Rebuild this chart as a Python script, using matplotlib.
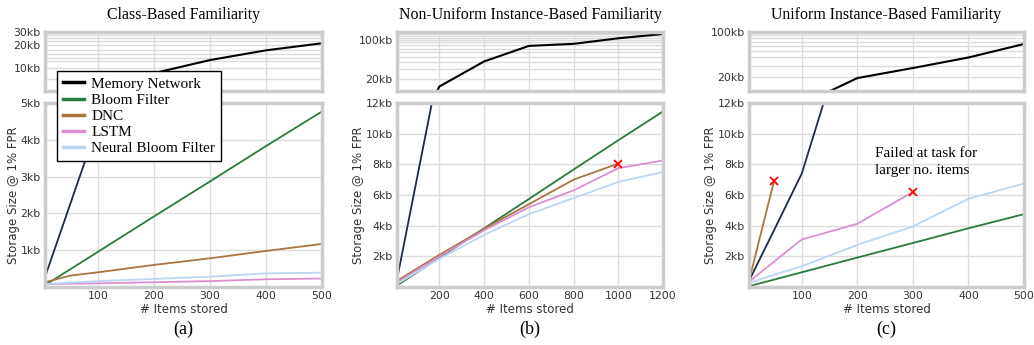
import matplotlib
matplotlib.use("Agg")
import matplotlib.pyplot as plt
from matplotlib.ticker import FixedLocator, FixedFormatter, NullFormatter
from matplotlib.lines import Line2D

# ---------------------------------------------------------------- data (kb)
# (a) Class-Based Familiarity
a_x = [5, 50, 100, 200, 300, 400, 500]
a_memnet = [0.27, 2.25, 4.45, 8.6, 12.8, 17.2, 21.3]
a_bloom = [0.05, 0.48, 0.96, 1.92, 2.87, 3.83, 4.77]
a_dnc = [0.13, 0.31, 0.40, 0.60, 0.78, 0.98, 1.17]
a_lstm = [0.08, 0.09, 0.10, 0.13, 0.16, 0.21, 0.23]
a_nbf = [0.08, 0.12, 0.16, 0.22, 0.28, 0.37, 0.39]

# (b) Non-Uniform Instance-Based Familiarity
b_x = [10, 200, 400, 600, 800, 1000, 1200]
b_memnet = [0.5, 14.5, 41, 78, 85, 107, 128]
b_bloom = [0.1, 1.91, 3.83, 5.74, 7.66, 9.57, 11.45]
b_dnc_x = [10, 200, 400, 600, 800, 1000]
b_dnc = [0.4, 2.1, 3.8, 5.4, 7.0, 8.05]
b_lstm = [0.3, 2.0, 3.7, 5.2, 6.3, 7.75, 8.25]
b_nbf = [0.2, 1.85, 3.4, 4.75, 5.8, 6.85, 7.5]

# (c) Uniform Instance-Based Familiarity
c_x = [5, 50, 100, 200, 300, 400, 500]
c_memnet = [0.4, 3.7, 7.4, 19.1, 27.4, 40, 65]
c_bloom = [0.05, 0.48, 0.96, 1.92, 2.87, 3.83, 4.75]
c_dnc_x = [5, 50]
c_dnc = [0.4, 6.9]
c_lstm_x = [5, 100, 200, 300]
c_lstm = [0.35, 3.1, 4.12, 6.2]
c_nbf = [0.25, 0.8, 1.35, 2.75, 3.95, 5.75, 6.75]

titles = ["Class-Based Familiarity",
          "Non-Uniform Instance-Based Familiarity",
          "Uniform Instance-Based Familiarity"]
panel_tags = ["(a)", "(b)", "(c)"]
legend_names = ["Memory Network", "Bloom Filter", "DNC", "LSTM",
                "Neural Bloom Filter"]

# ---------------------------------------------------------------- style
NAVY = "#1b2a4a"
GREEN = "#2b7a3d"
BROWN = "#a87540"
PINK = "#d98fd0"
LBLUE = "#bcd5f2"
GRID = "#dcdcdc"
SPINE = "#cccccc"
SERIF = "Liberation Serif"
TICK = 7.8

W, H = 1034, 345
fig = plt.figure(figsize=(W / 100, H / 100), dpi=100)


def fx(px):
    return px / W


def fy(px):
    return 1 - px / H


def style_axes(ax):
    ax.set_facecolor("white")
    for s in ax.spines.values():
        s.set_color(SPINE)
        s.set_linewidth(2.5)
    ax.grid(True, which="both", color=GRID, linewidth=1.0)
    ax.set_axisbelow(True)
    ax.tick_params(which="both", length=0, labelsize=TICK,
                   labelcolor="#333333", pad=3)


def make_panel(left, right, xlim, xticks, top_ylim, top_ticks, top_minor,
               bot_ylim, bot_ticks, title):
    top_ax = fig.add_axes([fx(left), fy(91), fx(right - left), (91 - 32) / H])
    bot_ax = fig.add_axes([fx(left), fy(287), fx(right - left), (287 - 103) / H])
    for ax in (top_ax, bot_ax):
        style_axes(ax)
        ax.set_xlim(*xlim)
        ax.xaxis.set_major_locator(FixedLocator(xticks))
    top_ax.set_yscale("log")
    top_ax.set_ylim(*top_ylim)
    top_ax.yaxis.set_major_locator(FixedLocator(top_ticks))
    top_ax.yaxis.set_major_formatter(
        FixedFormatter(["%dkb" % t for t in top_ticks]))
    top_ax.yaxis.set_minor_locator(FixedLocator(top_minor))
    top_ax.yaxis.set_minor_formatter(NullFormatter())
    top_ax.xaxis.set_major_formatter(NullFormatter())
    top_ax.set_title(title, fontfamily=SERIF, fontsize=11.4, pad=9.5)

    bot_ax.set_ylim(*bot_ylim)
    bot_ax.yaxis.set_major_locator(FixedLocator(bot_ticks))
    bot_ax.yaxis.set_major_formatter(
        FixedFormatter(["%dkb" % t for t in bot_ticks]))
    bot_ax.xaxis.set_major_formatter(FixedFormatter([str(t) for t in xticks]))
    bot_ax.set_xlabel("# Items stored", fontsize=8.5, color="#333333",
                      labelpad=1)
    bot_ax.set_ylabel("Storage Size @ 1% FPR", fontsize=8.5,
                      color="#333333", labelpad=0.5)
    return top_ax, bot_ax


LW = 1.3

# ---------------------------------------------------------------- (a)
ta, ba = make_panel(45, 322, (5, 500), [100, 200, 300, 400, 500],
                    (5, 30), [10, 20, 30],
                    [7.3, 12.3, 13.8, 15.5, 17.6, 22.5, 25, 27.5],
                    (0, 5), [1, 2, 3, 4, 5], titles[0])
ta.plot(a_x, a_memnet, color="black", lw=1.5)
ba.plot(a_x, a_memnet, color=NAVY, lw=LW)
ba.plot(a_x, a_bloom, color=GREEN, lw=LW)
ba.plot(a_x, a_dnc, color=BROWN, lw=LW)
ba.plot(a_x, a_lstm, color=PINK, lw=LW)
ba.plot(a_x, a_nbf, color=LBLUE, lw=LW)

# ---------------------------------------------------------------- (b)
log_minor = [30, 40, 50, 60, 70, 80, 90, 110, 120, 130]
tb, bb = make_panel(397, 663, (10, 1200), [200, 400, 600, 800, 1000, 1200],
                    (12, 139), [20, 100], log_minor,
                    (0, 12), [2, 4, 6, 8, 10, 12], titles[1])
tb.plot(b_x, b_memnet, color="black", lw=1.5)
bb.plot(b_x, b_memnet, color=NAVY, lw=LW)
bb.plot(b_x, b_bloom, color=GREEN, lw=LW)
bb.plot(b_dnc_x, b_dnc, color=BROWN, lw=LW)
bb.plot(b_x, b_lstm, color=PINK, lw=LW)
bb.plot(b_x, b_nbf, color=LBLUE, lw=LW)
bb.plot(b_dnc_x[-1], b_dnc[-1], "x", color="red", ms=6, mew=1.3)

# ---------------------------------------------------------------- (c)
tc, bc = make_panel(749, 1024, (5, 500), [100, 200, 300, 400, 500],
                    (12, 100), [20, 100], [30, 40, 50, 60, 70, 80, 90],
                    (0, 12), [2, 4, 6, 8, 10, 12], titles[2])
tc.plot(c_x, c_memnet, color="black", lw=1.5)
bc.plot(c_x, c_memnet, color=NAVY, lw=LW)
bc.plot(c_x, c_bloom, color=GREEN, lw=LW)
bc.plot(c_dnc_x, c_dnc, color=BROWN, lw=LW)
bc.plot(c_lstm_x, c_lstm, color=PINK, lw=LW)
bc.plot(c_x, c_nbf, color=LBLUE, lw=LW)
bc.plot(c_dnc_x[-1], c_dnc[-1], "x", color="red", ms=6, mew=1.3)
bc.plot(c_lstm_x[-1], c_lstm[-1], "x", color="red", ms=6, mew=1.3)
bc.text(232, 9.1, "Failed at task for\nlarger no. items", fontfamily=SERIF,
        fontsize=10.9, va="top", ha="left", linespacing=1.4)

# ---------------------------------------------------------------- legend
handles = [Line2D([], [], color=c, lw=2.5)
           for c in ["black", GREEN, BROWN, PINK, LBLUE]]
leg = fig.legend(handles, legend_names, loc="upper left",
                 bbox_to_anchor=(fx(57), fy(71)), borderaxespad=0,
                 prop={"family": SERIF, "size": 11}, labelspacing=0.16,
                 handlelength=1.35, handletextpad=0.5, borderpad=0.4,
                 fancybox=False, framealpha=1.0)
leg.get_frame().set_edgecolor("black")
leg.get_frame().set_linewidth(1.0)

# ---------------------------------------------------------------- tags
for tag, cx in zip(panel_tags, [183.5, 530, 886.5]):
    fig.text(fx(cx), fy(329), tag, fontfamily=SERIF, fontsize=13,
             ha="center", va="center")

fig.savefig("out.png", dpi=100)
